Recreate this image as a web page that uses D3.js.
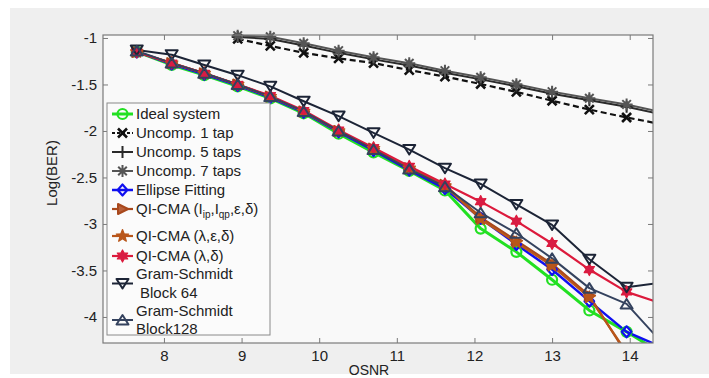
<!DOCTYPE html>
<html>
<head>
<meta charset="utf-8">
<script src="https://cdn.jsdelivr.net/npm/d3@7"></script>
<style>
  html, body { margin: 0; padding: 0; background: #ffffff; }
  svg { display: block; font-family: "Liberation Sans", Arial, sans-serif; }
</style>
</head>
<body>
<svg id="chart" width="709" height="378"></svg>
<script>
// OSNR grid shared by the compensated curves (last point lies just past the axis edge)
const osnr = [7.65, 8.10, 8.52, 8.95, 9.37, 9.80, 10.25, 10.70, 11.16, 11.62, 12.08, 12.54, 13.00, 13.48, 13.96, 14.43];
// OSNR grid of the uncompensated curves
const osnrUncomp = [8.95, 9.37, 9.80, 10.25, 10.70, 11.16, 11.62, 12.08, 12.54, 13.00, 13.48, 13.96, 14.43];

// Log(BER) values per scheme
const idealSystem  = [-1.15, -1.29, -1.40, -1.52, -1.65, -1.81, -2.03, -2.23, -2.43, -2.64, -3.05, -3.30, -3.60, -3.93, -4.16, -4.40];
const uncomp1Tap   = [-1.01, -1.085, -1.16, -1.22, -1.27, -1.345, -1.415, -1.495, -1.58, -1.675, -1.77, -1.855, -1.93];
const uncomp5Taps  = [-0.99, -1.01, -1.08, -1.16, -1.23, -1.295, -1.375, -1.445, -1.52, -1.60, -1.67, -1.74, -1.825];
const uncomp7Taps  = [-0.975, -0.987, -1.057, -1.137, -1.207, -1.272, -1.352, -1.423, -1.498, -1.577, -1.648, -1.715, -1.80];
const ellipseFit   = [-1.15, -1.28, -1.39, -1.51, -1.64, -1.80, -2.01, -2.21, -2.42, -2.62, -2.94, -3.22, -3.49, -3.83, -4.16, -4.33];
const qiCmaIQ      = [-1.15, -1.27, -1.38, -1.50, -1.63, -1.79, -2.00, -2.19, -2.40, -2.58, -2.93, -3.18, -3.43, -3.77, -4.40, -4.95];
const qiCmaLED     = [-1.15, -1.27, -1.38, -1.50, -1.63, -1.79, -2.00, -2.19, -2.40, -2.59, -2.95, -3.20, -3.45, -3.79, -4.38, -4.95];
const qiCmaLD      = [-1.15, -1.27, -1.38, -1.50, -1.62, -1.78, -1.99, -2.18, -2.38, -2.57, -2.76, -2.97, -3.21, -3.49, -3.73, -3.86];
const gramSchmidt64  = [-1.13, -1.18, -1.29, -1.40, -1.52, -1.68, -1.84, -2.02, -2.20, -2.40, -2.57, -2.79, -3.01, -3.38, -3.68, -3.63];
const gramSchmidt128 = [-1.14, -1.27, -1.38, -1.50, -1.63, -1.79, -2.00, -2.20, -2.41, -2.60, -2.88, -3.10, -3.37, -3.69, -3.86, -4.29];

// Axis ticks
const xTicks = [8, 9, 10, 11, 12, 13, 14];
const yTicks = [-1, -1.5, -2, -2.5, -3, -3.5, -4];

// Legend labels
const legendLabels = [
  "Ideal system", "Uncomp. 1 tap", "Uncomp. 5 taps", "Uncomp. 7 taps", "Ellipse Fitting",
  "QI-CMA (Iip,Iqp,ε,δ)", "QI-CMA (λ,ε,δ)", "QI-CMA (λ,δ)", "Gram-Schmidt Block 64", "Gram-Schmidt Block128"
];

// ---- layout ----
const svg = d3.select("#chart");
const plot = { left: 103, top: 35, right: 653, bottom: 343 };

const x = d3.scaleLinear().domain([7.215, 14.3]).range([plot.left, plot.right]);
const y = d3.scaleLinear().domain([-0.968, -4.28]).range([plot.top, plot.bottom]);

// figure background
svg.append("rect").attr("x", 10).attr("y", 8).attr("width", 699).attr("height", 366).attr("fill", "#efefef");
svg.append("rect").attr("x", plot.left).attr("y", plot.top)
  .attr("width", plot.right - plot.left).attr("height", plot.bottom - plot.top).attr("fill", "#f9f9f9");

svg.append("clipPath").attr("id", "plotClip").append("rect")
  .attr("x", plot.left).attr("y", plot.top)
  .attr("width", plot.right - plot.left).attr("height", plot.bottom - plot.top);

// ---- marker shapes (centred on 0,0) ----
function star(points, outer, inner) {
  const p = [];
  for (let i = 0; i < points * 2; i++) {
    const r = i % 2 === 0 ? outer : inner;
    const a = -Math.PI / 2 + i * Math.PI / points;
    p.push([r * Math.cos(a), r * Math.sin(a)]);
  }
  return "M" + p.map(q => q.join(",")).join("L") + "Z";
}
const markerPaths = {
  circle: "M5,0A5,5 0 1,1 -5,0A5,5 0 1,1 5,0Z",
  times: "M-4.5,-4.5L4.5,4.5M-4.5,4.5L4.5,-4.5",
  plus: "M-6,0L6,0M0,-6L0,6",
  asterisk: "M-6,0L6,0M0,-6L0,6M-4.3,-4.3L4.3,4.3M-4.3,4.3L4.3,-4.3",
  diamond: "M0,-5.5L4.8,0L0,5.5L-4.8,0Z",
  triRight: "M5.5,0L-4.5,-5L-4.5,5Z",
  pentagram: star(5, 6.5, 2.8),
  hexagram: star(6, 6, 3.3),
  triDown: "M0,5L-6,-4.5L6,-4.5Z",
  triUp: "M0,-5L-6,4.5L6,4.5Z"
};

// ---- series table ----
const series = [
  { name: legendLabels[0], xs: osnr, ys: idealSystem, color: "#22e022", width: 3, marker: "circle", fill: "none", mw: 2.2 },
  { name: legendLabels[1], xs: osnrUncomp, ys: uncomp1Tap, color: "#111111", width: 2.2, dash: "6,3.5", marker: "times", fill: "none", mw: 2.6 },
  { name: legendLabels[2], xs: osnrUncomp, ys: uncomp5Taps, color: "#2a2a2a", width: 2, marker: "plus", fill: "none", mw: 2 },
  { name: legendLabels[3], xs: osnrUncomp, ys: uncomp7Taps, color: "#555555", width: 2, marker: "asterisk", fill: "none", mw: 2 },
  { name: legendLabels[4], xs: osnr, ys: ellipseFit, color: "#1010f0", width: 2.5, marker: "diamond", fill: "none", mw: 2.2 },
  { name: legendLabels[5], xs: osnr, ys: qiCmaIQ, color: "#a8481c", width: 2.2, marker: "triRight", fill: "#b8603a", mw: 2 },
  { name: legendLabels[6], xs: osnr, ys: qiCmaLED, color: "#b9561a", width: 2.2, marker: "pentagram", fill: "#b9561a", mw: 1.2 },
  { name: legendLabels[7], xs: osnr, ys: qiCmaLD, color: "#dc1a3c", width: 2.2, marker: "hexagram", fill: "#d81c44", mw: 1.2 },
  { name: legendLabels[8], xs: osnr, ys: gramSchmidt64, color: "#1c2436", width: 2, marker: "triDown", fill: "none", mw: 2 },
  { name: legendLabels[9], xs: osnr, ys: gramSchmidt128, color: "#34425e", width: 2, marker: "triUp", fill: "none", mw: 2 }
];

const line = d3.line().x(d => x(d[0])).y(d => y(d[1]));
const marks = svg.append("g").attr("clip-path", "url(#plotClip)");

series.forEach(s => {
  const pts = s.xs.map((v, i) => [v, s.ys[i]]);
  marks.append("path")
    .attr("d", line(pts))
    .attr("fill", "none")
    .attr("stroke", s.color)
    .attr("stroke-width", s.width)
    .attr("stroke-linejoin", "round")
    .attr("stroke-dasharray", s.dash || null);
});

// markers only for points inside the axes
const [xMin, xMax] = x.domain();
const [yMax, yMin] = y.domain();
const markerLayer = svg.append("g");
series.forEach(s => {
  const pts = s.xs.map((v, i) => [v, s.ys[i]])
    .filter(d => d[0] >= xMin && d[0] <= xMax && d[1] >= yMin && d[1] <= yMax);
  markerLayer.selectAll(null).data(pts).enter().append("path")
    .attr("transform", d => `translate(${x(d[0])},${y(d[1])})`)
    .attr("d", markerPaths[s.marker])
    .attr("fill", s.fill)
    .attr("stroke", s.color)
    .attr("stroke-width", s.mw)
    .attr("stroke-linejoin", "round");
});

// ---- axes (ticks pointing inward, box on all sides) ----
const axisColor = "#7a7a7a";
const fmt = d => String(d);

const gx = svg.append("g").attr("transform", `translate(0,${plot.bottom})`)
  .call(d3.axisBottom(x).tickValues(xTicks).tickSize(-5).tickPadding(7).tickFormat(fmt));
const gxTop = svg.append("g").attr("transform", `translate(0,${plot.top})`)
  .call(d3.axisTop(x).tickValues(xTicks).tickSize(-5).tickFormat(""));
const gy = svg.append("g").attr("transform", `translate(${plot.left},0)`)
  .call(d3.axisLeft(y).tickValues(yTicks).tickSize(-5).tickPadding(6).tickFormat(fmt));
const gyRight = svg.append("g").attr("transform", `translate(${plot.right},0)`)
  .call(d3.axisRight(y).tickValues(yTicks).tickSize(-5).tickFormat(""));

[gx, gxTop, gy, gyRight].forEach(g => {
  g.select(".domain").remove();
  g.selectAll(".tick line").attr("stroke", axisColor).attr("stroke-width", 1);
  g.selectAll("text").attr("fill", "#222").attr("font-size", 15)
    .attr("font-family", "'Liberation Sans', Arial, sans-serif");
});

svg.append("rect").attr("x", plot.left).attr("y", plot.top)
  .attr("width", plot.right - plot.left).attr("height", plot.bottom - plot.top)
  .attr("fill", "none").attr("stroke", axisColor).attr("stroke-width", 1.2);

// axis titles
svg.append("text").attr("x", 369).attr("y", 374.5).attr("text-anchor", "middle")
  .attr("font-size", 14).attr("fill", "#222").text("OSNR");
svg.append("text").attr("transform", "translate(57,173) rotate(-90)").attr("text-anchor", "middle")
  .attr("font-size", 15).attr("fill", "#222").text("Log(BER)");

// ---- legend ----
const legend = svg.append("g");
legend.append("rect").attr("x", 107).attr("y", 103).attr("width", 163).attr("height", 232)
  .attr("fill", "#fbfbfb").attr("stroke", "#8a8a8a").attr("stroke-width", 1);

const rowY = [114, 133, 152, 171, 190, 209, 236, 256, 283.5, 320];
series.forEach((s, i) => {
  const cy = rowY[i];
  legend.append("line").attr("x1", 112).attr("x2", 133).attr("y1", cy).attr("y2", cy)
    .attr("stroke", s.color).attr("stroke-width", s.width)
    .attr("stroke-dasharray", s.dash ? "3,2" : null);
  legend.append("path").attr("transform", `translate(122.5,${cy})`)
    .attr("d", markerPaths[s.marker]).attr("fill", s.fill)
    .attr("stroke", s.color).attr("stroke-width", s.mw).attr("stroke-linejoin", "round");
});

function legendText(yc, label, xPos) {
  return legend.append("text").attr("x", xPos || 136).attr("y", yc).attr("dy", "0.36em")
    .attr("font-size", 15).attr("fill", "#222").text(label);
}
legendText(rowY[0], legendLabels[0]);
legendText(rowY[1], legendLabels[1]);
legendText(rowY[2], legendLabels[2]);
legendText(rowY[3], legendLabels[3]);
legendText(rowY[4], legendLabels[4]);
{
  // subscripted in-phase / quadrature terms
  const t = legend.append("text").attr("x", 136).attr("y", rowY[5]).attr("dy", "0.36em")
    .attr("font-size", 15).attr("fill", "#222");
  t.append("tspan").text("QI-CMA (I");
  t.append("tspan").attr("font-size", 10).attr("dy", 4).text("ip");
  t.append("tspan").attr("dy", -4).text(",I");
  t.append("tspan").attr("font-size", 10).attr("dy", 4).text("qp");
  t.append("tspan").attr("dy", -4).text(",ε,δ)");
}
legendText(rowY[6], legendLabels[6]);
legendText(rowY[7], legendLabels[7]);
legendText(274, "Gram-Schmidt");
legendText(293, "Block 64", 140);
legendText(311, "Gram-Schmidt");
legendText(329, "Block128");
</script>
</body>
</html>
